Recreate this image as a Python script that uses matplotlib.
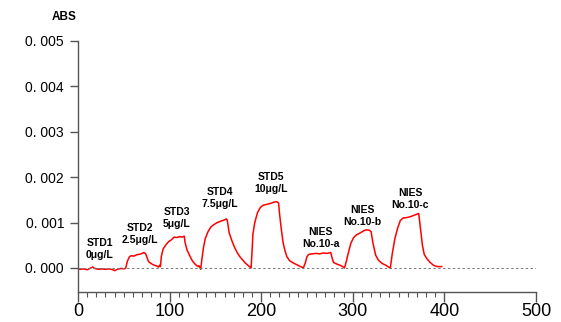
import matplotlib
matplotlib.use("Agg")
import matplotlib.pyplot as plt
from matplotlib.ticker import FixedLocator

# time (s) and absorbance (x1e-3)
time_s = [0, 3, 6, 10, 14, 16, 18, 22, 26, 30, 34, 38, 40, 43, 47, 50, 52,
          54, 56, 58, 61, 64, 67, 70, 72, 74, 75, 77, 79, 82, 85, 88, 89, 90,
          91, 93, 96, 99, 102, 105, 108, 111, 114, 116, 117, 119, 122, 125, 128, 131, 132, 134,
          135, 137, 139, 142, 145, 148, 152, 156, 160, 162, 163, 165, 168, 171, 174, 177, 180, 183, 186, 189,
          190, 191, 193, 196, 199, 202, 206, 210, 214, 217, 219, 220, 222, 224, 226, 228, 231, 235, 239, 243, 246,
          248, 250, 252, 256, 260, 264, 268, 272, 276, 277, 279, 282, 286, 289, 291,
          293, 295, 298, 301, 304, 308, 312, 315, 318, 320, 322, 325, 328, 332, 336, 339, 341,
          343, 346, 349, 352, 355, 359, 363, 367, 371, 372, 374, 376, 378, 381, 384, 388, 392, 397]
abs_milli = [-0.02, -0.03, -0.02, -0.04, 0.0, 0.02, -0.01, -0.03, -0.02, -0.03, -0.02, -0.04, -0.06, -0.03, -0.01, -0.02, -0.01,
             0.15, 0.24, 0.27, 0.26, 0.29, 0.30, 0.32, 0.34, 0.31, 0.25, 0.14, 0.11, 0.07, 0.05, 0.02, 0.06, 0.03,
             0.25, 0.42, 0.51, 0.58, 0.62, 0.68, 0.67, 0.69, 0.68, 0.70, 0.55, 0.40, 0.27, 0.15, 0.08, 0.03, 0.05, -0.03,
             0.15, 0.45, 0.65, 0.80, 0.90, 0.95, 1.00, 1.03, 1.06, 1.08, 1.05, 0.78, 0.60, 0.45, 0.33, 0.24, 0.17, 0.10, 0.05, 0.00,
             0.35, 0.75, 1.00, 1.22, 1.33, 1.38, 1.40, 1.42, 1.45, 1.46, 1.43, 1.20, 0.85, 0.55, 0.38, 0.25, 0.16, 0.11, 0.07, 0.03, 0.00,
             0.10, 0.25, 0.30, 0.31, 0.32, 0.31, 0.33, 0.32, 0.34, 0.25, 0.12, 0.09, 0.06, 0.03, 0.00,
             0.15, 0.32, 0.55, 0.67, 0.73, 0.77, 0.82, 0.84, 0.83, 0.80, 0.55, 0.28, 0.17, 0.10, 0.06, 0.02, 0.00,
             0.30, 0.65, 0.88, 1.05, 1.10, 1.11, 1.13, 1.16, 1.19, 1.20, 0.85, 0.50, 0.30, 0.20, 0.13, 0.06, 0.03, 0.03]

peak_labels = ["STD1\n0\u03bcg/L", "STD2\n2.5\u03bcg/L", "STD3\n5\u03bcg/L", "STD4\n7.5\u03bcg/L",
               "STD5\n10\u03bcg/L", "NIES\nNo.10-a", "NIES\nNo.10-b", "NIES\nNo.10-c"]
label_x = [24, 68, 108, 155, 211, 265, 310, 363]
label_y = [0.00041, 0.00074, 0.00111, 0.00155, 0.00188, 0.00065, 0.00114, 0.00151]

y_ticks = [0.0, 0.001, 0.002, 0.003, 0.004, 0.005]
y_tick_labels = ["0. 000", "0. 001", "0. 002", "0. 003", "0. 004", "0. 005"]
x_ticks = [0, 100, 200, 300, 400, 500]

font = "Liberation Sans"
axis_col = "#555555"

fig = plt.figure(figsize=(5.61, 3.22), dpi=100)
ax = fig.add_axes([0.139, 0.0932, 0.8164, 0.7795])

ax.plot(time_s, [v * 1e-3 for v in abs_milli], color="#ff0000", linewidth=1.1)
ax.axhline(0, xmin=0, xmax=1, color="#777777", linewidth=0.7, linestyle=(0, (2.5, 2.5)))

for txt, x, y in zip(peak_labels, label_x, label_y):
    ax.text(x, y, txt, ha="center", va="center", fontsize=7.5, fontweight="bold",
            family=font, linespacing=1.25)

ax.set_xlim(0, 500)
ax.set_ylim(-0.00053, 0.005)
ax.spines["top"].set_visible(False)
ax.spines["right"].set_visible(False)
for s in ("left", "bottom"):
    ax.spines[s].set_color(axis_col)
    ax.spines[s].set_linewidth(1.0)

ax.set_yticks(y_ticks)
ax.set_yticklabels(y_tick_labels, family=font, fontsize=10)
ax.set_xticks(x_ticks)
ax.set_xticklabels([str(v) for v in x_ticks], family=font, fontsize=13)
ax.xaxis.set_minor_locator(FixedLocator([v for v in range(10, 400, 10) if v % 100]))
ax.tick_params(axis="x", which="major", direction="out", length=7, width=1, color=axis_col, pad=1)
ax.tick_params(axis="x", which="minor", direction="out", length=3.5, width=0.8, color=axis_col)
ax.tick_params(axis="y", which="major", direction="out", length=6, width=1, color=axis_col, pad=4)

fig.text(64 / 561, 1 - 17 / 322, "ABS", ha="center", va="center", fontsize=8.5,
         fontweight="bold", family=font)

fig.savefig("out.png", dpi=100)
